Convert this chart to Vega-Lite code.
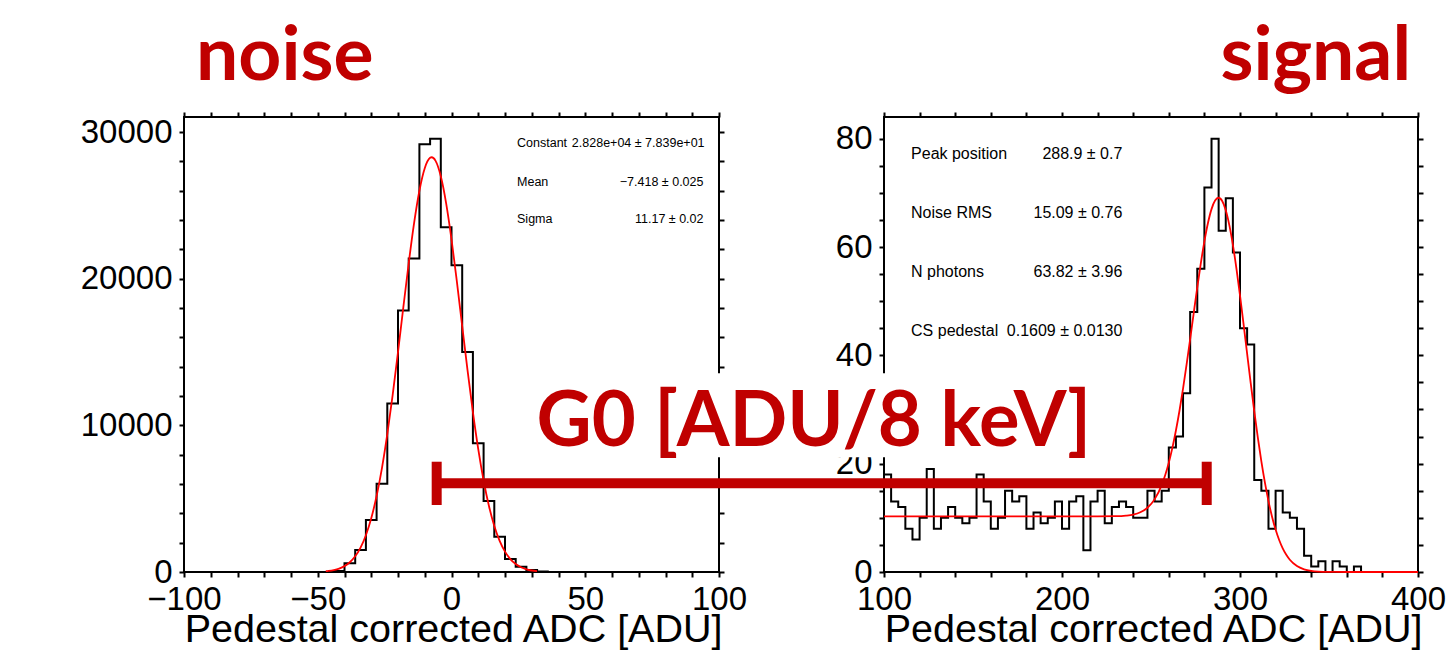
{
  "$schema": "https://vega.github.io/schema/vega-lite/v6.json",
  "autosize": {"type": "none"},
  "padding": {"left": 184, "top": 117, "right": 1268, "bottom": 541},
  "background": "white",
  "bounds": "flush",
  "spacing": 165,
  "config": {
    "view": {"stroke": "black", "strokeWidth": 2},
    "axis": {
      "domain": false, "grid": false,
      "labelFont": "Liberation Sans", "labelFontSize": 33, "labelColor": "black",
      "tickColor": "black", "tickWidth": 2, "tickSize": 5,
      "labelFlush": false, "labelOverlap": false, "labelBound": false,
      "titleFont": "Liberation Sans", "titleFontSize": 39.5, "titleFontWeight": "normal", "titleColor": "black"
    },
    "text": {"font": "Liberation Sans", "color": "black"}
  },
  "datasets": {
    "noise_hist": [
      {"adc": -100, "entries": 0}, {"adc": -44, "entries": 70}, {"adc": -40, "entries": 592},
      {"adc": -36, "entries": 1500}, {"adc": -32, "entries": 3550}, {"adc": -28, "entries": 6010},
      {"adc": -24, "entries": 11495}, {"adc": -20, "entries": 17824}, {"adc": -16, "entries": 21375},
      {"adc": -12, "entries": 29160}, {"adc": -8, "entries": 29549}, {"adc": -4, "entries": 23514},
      {"adc": 0, "entries": 20918}, {"adc": 4, "entries": 15000}, {"adc": 8, "entries": 8787},
      {"adc": 12, "entries": 4849}, {"adc": 16, "entries": 2412}, {"adc": 20, "entries": 888},
      {"adc": 24, "entries": 364}, {"adc": 28, "entries": 137}, {"adc": 32, "entries": 30},
      {"adc": 36, "entries": 0}, {"adc": 100, "entries": 0}
    ],
    "noise_fit": [
      {"adc": -47, "fit": 53}, {"adc": -46, "fit": 72.5}, {"adc": -44, "fit": 132.5}, {"adc": -42, "fit": 234},
      {"adc": -40, "fit": 402}, {"adc": -38, "fit": 667}, {"adc": -36, "fit": 1071}, {"adc": -34, "fit": 1666},
      {"adc": -32, "fit": 2510}, {"adc": -30, "fit": 3664}, {"adc": -28, "fit": 5180}, {"adc": -26, "fit": 7088},
      {"adc": -24, "fit": 9396}, {"adc": -22, "fit": 12061}, {"adc": -20, "fit": 14995}, {"adc": -18, "fit": 18055},
      {"adc": -16, "fit": 21052}, {"adc": -14, "fit": 23773}, {"adc": -12, "fit": 25998}, {"adc": -10, "fit": 27535},
      {"adc": -8, "fit": 28242}, {"adc": -7.418, "fit": 28280}, {"adc": -6, "fit": 28053}, {"adc": -4, "fit": 26986},
      {"adc": -2, "fit": 25142}, {"adc": 0, "fit": 22685}, {"adc": 2, "fit": 19820}, {"adc": 4, "fit": 16772},
      {"adc": 6, "fit": 13745}, {"adc": 8, "fit": 10908}, {"adc": 10, "fit": 8384}, {"adc": 12, "fit": 6241},
      {"adc": 14, "fit": 4499}, {"adc": 16, "fit": 3141}, {"adc": 18, "fit": 2123}, {"adc": 20, "fit": 1390},
      {"adc": 22, "fit": 881.5}, {"adc": 24, "fit": 541}, {"adc": 26, "fit": 322}, {"adc": 28, "fit": 185},
      {"adc": 30, "fit": 103}, {"adc": 32, "fit": 56}
    ],
    "noise_stats": [
      {"name": "Constant", "value": "2.828e+04 ± 7.839e+01", "name_x": 24.5, "value_x": 94.6, "entries": 29229},
      {"name": "Mean", "value": "−7.418 ± 0.025", "name_x": 24.5, "value_x": 94.2, "entries": 26585},
      {"name": "Sigma", "value": "11.17 ± 0.02", "name_x": 24.5, "value_x": 94.2, "entries": 24056}
    ],
    "noise_title": [{"text": "noise", "adc": -95.5, "entries": 33549}],
    "signal_hist": [
      {"adc": 100, "entries": 18}, {"adc": 104, "entries": 13}, {"adc": 108, "entries": 12}, {"adc": 112, "entries": 8},
      {"adc": 116, "entries": 6}, {"adc": 120, "entries": 10}, {"adc": 124, "entries": 19}, {"adc": 128, "entries": 8},
      {"adc": 132, "entries": 10}, {"adc": 136, "entries": 12}, {"adc": 140, "entries": 10}, {"adc": 144, "entries": 9},
      {"adc": 148, "entries": 10}, {"adc": 152, "entries": 18}, {"adc": 156, "entries": 13}, {"adc": 160, "entries": 8},
      {"adc": 164, "entries": 10}, {"adc": 168, "entries": 15}, {"adc": 172, "entries": 13}, {"adc": 176, "entries": 14},
      {"adc": 180, "entries": 8}, {"adc": 184, "entries": 11}, {"adc": 188, "entries": 9}, {"adc": 192, "entries": 10},
      {"adc": 196, "entries": 13}, {"adc": 200, "entries": 8}, {"adc": 204, "entries": 13}, {"adc": 208, "entries": 14},
      {"adc": 212, "entries": 4}, {"adc": 216, "entries": 13}, {"adc": 220, "entries": 15}, {"adc": 224, "entries": 9},
      {"adc": 228, "entries": 12}, {"adc": 232, "entries": 13}, {"adc": 236, "entries": 12}, {"adc": 240, "entries": 10},
      {"adc": 244, "entries": 10}, {"adc": 248, "entries": 15}, {"adc": 252, "entries": 13}, {"adc": 256, "entries": 15},
      {"adc": 260, "entries": 23}, {"adc": 264, "entries": 25}, {"adc": 268, "entries": 33}, {"adc": 272, "entries": 48},
      {"adc": 276, "entries": 56}, {"adc": 280, "entries": 71}, {"adc": 284, "entries": 80}, {"adc": 288, "entries": 63},
      {"adc": 292, "entries": 69}, {"adc": 296, "entries": 59}, {"adc": 300, "entries": 45}, {"adc": 304, "entries": 42},
      {"adc": 308, "entries": 17}, {"adc": 312, "entries": 15}, {"adc": 316, "entries": 8}, {"adc": 320, "entries": 15},
      {"adc": 324, "entries": 11}, {"adc": 328, "entries": 10}, {"adc": 332, "entries": 8}, {"adc": 336, "entries": 3},
      {"adc": 340, "entries": 1}, {"adc": 344, "entries": 2}, {"adc": 348, "entries": 0}, {"adc": 352, "entries": 2},
      {"adc": 356, "entries": 1}, {"adc": 360, "entries": 0}, {"adc": 364, "entries": 1}, {"adc": 368, "entries": 0},
      {"adc": 400, "entries": 0}
    ],
    "signal_fit": [
      {"adc": 100, "fit": 10.27}, {"adc": 200, "fit": 10.27}, {"adc": 220, "fit": 10.27}, {"adc": 230, "fit": 10.30},
      {"adc": 236, "fit": 10.41}, {"adc": 240, "fit": 10.60}, {"adc": 244, "fit": 11.02}, {"adc": 248, "fit": 11.86},
      {"adc": 252, "fit": 13.41}, {"adc": 256, "fit": 16.05}, {"adc": 258, "fit": 17.90}, {"adc": 260, "fit": 20.18},
      {"adc": 262, "fit": 22.91}, {"adc": 264, "fit": 26.12}, {"adc": 266, "fit": 29.77}, {"adc": 268, "fit": 33.87},
      {"adc": 270, "fit": 38.32}, {"adc": 272, "fit": 43.01}, {"adc": 274, "fit": 47.81}, {"adc": 276, "fit": 52.54},
      {"adc": 278, "fit": 57.02}, {"adc": 280, "fit": 61.05}, {"adc": 282, "fit": 64.43}, {"adc": 284, "fit": 66.99},
      {"adc": 286, "fit": 68.57}, {"adc": 288, "fit": 69.09}, {"adc": 290, "fit": 68.49}, {"adc": 292, "fit": 66.79},
      {"adc": 294, "fit": 64.05}, {"adc": 296, "fit": 60.41}, {"adc": 298, "fit": 56.01}, {"adc": 300, "fit": 51.07},
      {"adc": 302, "fit": 45.77}, {"adc": 304, "fit": 40.31}, {"adc": 306, "fit": 34.90}, {"adc": 308, "fit": 29.70},
      {"adc": 310, "fit": 24.84}, {"adc": 312, "fit": 20.42}, {"adc": 314, "fit": 16.49}, {"adc": 316, "fit": 13.09},
      {"adc": 318, "fit": 10.21}, {"adc": 320, "fit": 7.83}, {"adc": 322, "fit": 5.90}, {"adc": 324, "fit": 4.37},
      {"adc": 326, "fit": 3.18}, {"adc": 328, "fit": 2.27}, {"adc": 332, "fit": 1.10}, {"adc": 336, "fit": 0.50},
      {"adc": 340, "fit": 0.21}, {"adc": 344, "fit": 0.08}, {"adc": 350, "fit": 0.02}, {"adc": 360, "fit": 0},
      {"adc": 400, "fit": 0}
    ],
    "signal_stats": [
      {"name": "Peak position", "value": "288.9 ± 0.7", "name_x": 115.2, "value_x": 233.9, "entries": 77.17},
      {"name": "Noise RMS", "value": "15.09 ± 0.76", "name_x": 115.2, "value_x": 233.9, "entries": 66.28},
      {"name": "N photons", "value": "63.82 ± 3.96", "name_x": 115.2, "value_x": 233.9, "entries": 55.38},
      {"name": "CS pedestal", "value": "0.1609 ± 0.0130", "name_x": 115.2, "value_x": 233.9, "entries": 44.49}
    ],
    "signal_title": [{"text": "signal", "adc": 396.1, "entries": 90.83}],
    "g0_box": [{"x0": -115.7, "x1": 227, "y0": 21.2, "y1": 36.7}],
    "g0_label": [{"text": "G0 [ADU/8 keV]", "adc": 60.6, "entries": 23.26}],
    "g0_bar": [{"from": -151.3, "to": 281.3, "level": 16.38}],
    "g0_caps": [{"adc": -151.3, "lo": 12.37, "hi": 20.36}, {"adc": 281.3, "lo": 12.37, "hi": 20.36}]
  },
  "hconcat": [
    {
      "width": 535,
      "height": 455,
      "resolve": {"axis": {"x": "independent", "y": "independent"}},
      "layer": [
        {
          "data": {"name": "noise_hist"},
          "mark": {"type": "line", "interpolate": "step-after", "color": "black", "strokeWidth": 2},
          "encoding": {
            "x": {"field": "adc", "type": "quantitative", "scale": {"domain": [-100, 100], "nice": false, "zero": false},
              "axis": {"orient": "bottom", "values": [-100,-90,-80,-70,-60,-50,-40,-30,-20,-10,0,10,20,30,40,50,60,70,80,90,100],
                "format": "d", "labelExpr": "datum.value % 50 === 0 ? datum.label : ''", "labelPadding": 6,
                "encode": {"ticks": {"y2": {"condition": {"test": "datum.value % 50 === 0", "value": -14}, "value": -7}}},
                "title": "Pedestal corrected ADC [ADU]", "titleAlign": "right", "titleBaseline": "alphabetic", "titleX": 538, "titleY": 69, "zindex": 0}},
            "y": {"field": "entries", "type": "quantitative", "scale": {"domain": [0, 31026], "nice": false},
              "axis": {"orient": "left", "values": [0,2000,4000,6000,8000,10000,12000,14000,16000,18000,20000,22000,24000,26000,28000,30000],
                "format": "d", "labelExpr": "datum.value % 10000 === 0 ? datum.label : ''", "labelPadding": 7,
                "encode": {"ticks": {"x2": {"condition": {"test": "datum.value % 10000 === 0", "value": 16}, "value": 8}}},
                "title": null, "zindex": 0}}
          }
        },
        {
          "data": {"name": "noise_fit"},
          "mark": {"type": "line", "interpolate": "monotone", "color": "#ff0000", "strokeWidth": 1.8},
          "encoding": {
            "x": {"field": "adc", "type": "quantitative",
              "axis": {"orient": "top", "values": [-100,-90,-80,-70,-60,-50,-40,-30,-20,-10,0,10,20,30,40,50,60,70,80,90,100],
                "labels": false, "title": null,
                "encode": {"ticks": {"y2": {"condition": {"test": "datum.value % 50 === 0", "value": 14}, "value": 7}}}, "zindex": 0}},
            "y": {"field": "fit", "type": "quantitative",
              "axis": {"orient": "right", "values": [0,2000,4000,6000,8000,10000,12000,14000,16000,18000,20000,22000,24000,26000,28000,30000],
                "labels": false, "title": null,
                "encode": {"ticks": {"x2": {"condition": {"test": "datum.value % 10000 === 0", "value": -16}, "value": -8}}}, "zindex": 0}}
          }
        },
        {
          "data": {"name": "noise_stats"},
          "mark": {"type": "text", "align": "left", "baseline": "middle", "fontSize": 12.5},
          "encoding": {
            "x": {"field": "name_x", "type": "quantitative", "axis": null},
            "y": {"field": "entries", "type": "quantitative", "axis": null},
            "text": {"field": "name"}
          }
        },
        {
          "data": {"name": "noise_stats"},
          "mark": {"type": "text", "align": "right", "baseline": "middle", "fontSize": 12.5},
          "encoding": {
            "x": {"field": "value_x", "type": "quantitative", "axis": null},
            "y": {"field": "entries", "type": "quantitative", "axis": null},
            "text": {"field": "value"}
          }
        },
        {
          "data": {"name": "noise_title"},
          "mark": {"type": "text", "align": "left", "baseline": "alphabetic", "font": "Lato", "fontSize": 75, "fontWeight": "bold", "color": "#c00000"},
          "encoding": {
            "x": {"field": "adc", "type": "quantitative", "axis": null},
            "y": {"field": "entries", "type": "quantitative", "axis": null},
            "text": {"field": "text"}
          }
        }
      ]
    },
    {
      "width": 534,
      "height": 455,
      "resolve": {"axis": {"x": "independent", "y": "independent"}},
      "layer": [
        {
          "data": {"name": "signal_hist"},
          "mark": {"type": "line", "interpolate": "step-after", "color": "black", "strokeWidth": 2},
          "encoding": {
            "x": {"field": "adc", "type": "quantitative", "scale": {"domain": [100, 400], "nice": false, "zero": false},
              "axis": {"orient": "bottom", "values": [100,120,140,160,180,200,220,240,260,280,300,320,340,360,380,400],
                "format": "d", "labelExpr": "datum.value % 100 === 0 ? datum.label : ''", "labelPadding": 6,
                "encode": {"ticks": {"y2": {"condition": {"test": "datum.value % 100 === 0", "value": -14}, "value": -7}}},
                "title": "Pedestal corrected ADC [ADU]", "titleAlign": "right", "titleBaseline": "alphabetic", "titleX": 538, "titleY": 69, "zindex": 0}},
            "y": {"field": "entries", "type": "quantitative", "scale": {"domain": [0, 84], "nice": false},
              "axis": {"orient": "left", "values": [0,5,10,15,20,25,30,35,40,45,50,55,60,65,70,75,80],
                "format": "d", "labelExpr": "datum.value % 20 === 0 ? datum.label : ''", "labelPadding": 7,
                "encode": {"ticks": {"x2": {"condition": {"test": "datum.value % 20 === 0", "value": 16}, "value": 8}}},
                "title": null, "zindex": 0}}
          }
        },
        {
          "data": {"name": "signal_fit"},
          "mark": {"type": "line", "interpolate": "monotone", "color": "#ff0000", "strokeWidth": 1.8},
          "encoding": {
            "x": {"field": "adc", "type": "quantitative",
              "axis": {"orient": "top", "values": [100,120,140,160,180,200,220,240,260,280,300,320,340,360,380,400],
                "labels": false, "title": null,
                "encode": {"ticks": {"y2": {"condition": {"test": "datum.value % 100 === 0", "value": 14}, "value": 7}}}, "zindex": 0}},
            "y": {"field": "fit", "type": "quantitative",
              "axis": {"orient": "right", "values": [0,5,10,15,20,25,30,35,40,45,50,55,60,65,70,75,80],
                "labels": false, "title": null,
                "encode": {"ticks": {"x2": {"condition": {"test": "datum.value % 20 === 0", "value": -16}, "value": -8}}}, "zindex": 0}}
          }
        },
        {
          "data": {"name": "signal_stats"},
          "mark": {"type": "text", "align": "left", "baseline": "middle", "fontSize": 16},
          "encoding": {
            "x": {"field": "name_x", "type": "quantitative", "axis": null},
            "y": {"field": "entries", "type": "quantitative", "axis": null},
            "text": {"field": "name"}
          }
        },
        {
          "data": {"name": "signal_stats"},
          "mark": {"type": "text", "align": "right", "baseline": "middle", "fontSize": 16},
          "encoding": {
            "x": {"field": "value_x", "type": "quantitative", "axis": null},
            "y": {"field": "entries", "type": "quantitative", "axis": null},
            "text": {"field": "value"}
          }
        },
        {
          "data": {"name": "signal_title"},
          "mark": {"type": "text", "align": "right", "baseline": "alphabetic", "font": "Lato", "fontSize": 75, "fontWeight": "bold", "color": "#c00000"},
          "encoding": {
            "x": {"field": "adc", "type": "quantitative", "axis": null},
            "y": {"field": "entries", "type": "quantitative", "axis": null},
            "text": {"field": "text"}
          }
        },
        {
          "data": {"name": "g0_box"},
          "mark": {"type": "rect", "color": "white", "opacity": 1},
          "encoding": {
            "x": {"field": "x0", "type": "quantitative", "axis": null},
            "x2": {"field": "x1"},
            "y": {"field": "y0", "type": "quantitative", "axis": null},
            "y2": {"field": "y1"}
          }
        },
        {
          "data": {"name": "g0_label"},
          "mark": {"type": "text", "align": "center", "baseline": "alphabetic", "font": "Lato", "fontSize": 76, "fontWeight": "bold", "color": "#c00000"},
          "encoding": {
            "x": {"field": "adc", "type": "quantitative", "axis": null},
            "y": {"field": "entries", "type": "quantitative", "axis": null},
            "text": {"field": "text"}
          }
        },
        {
          "data": {"name": "g0_bar"},
          "mark": {"type": "rule", "color": "#c00000", "strokeWidth": 10, "strokeCap": "butt"},
          "encoding": {
            "x": {"field": "from", "type": "quantitative", "axis": null},
            "x2": {"field": "to"},
            "y": {"field": "level", "type": "quantitative", "axis": null}
          }
        },
        {
          "data": {"name": "g0_caps"},
          "mark": {"type": "rule", "color": "#c00000", "strokeWidth": 10, "strokeCap": "butt"},
          "encoding": {
            "x": {"field": "adc", "type": "quantitative", "axis": null},
            "y": {"field": "lo", "type": "quantitative", "axis": null},
            "y2": {"field": "hi"}
          }
        }
      ]
    }
  ]
}
